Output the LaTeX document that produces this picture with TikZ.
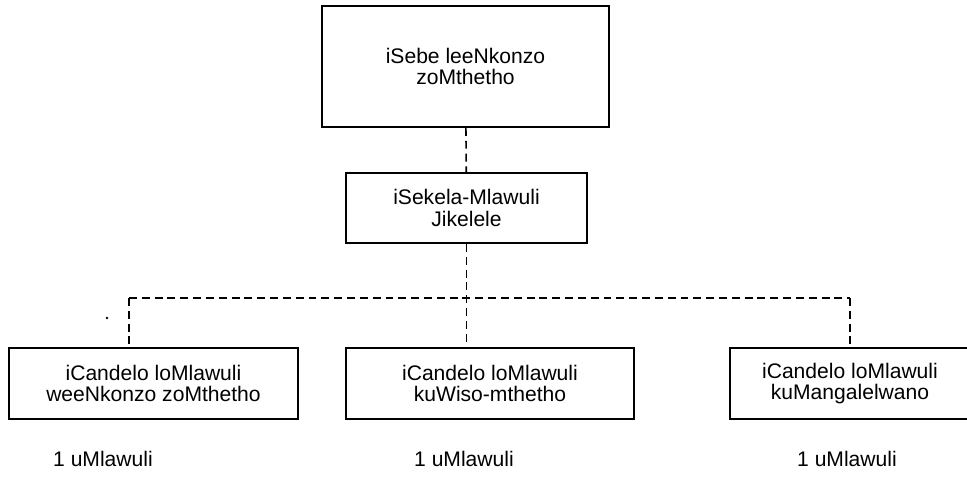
\documentclass[tikz,border=0pt]{standalone}
\usepackage{fontspec}
\setmainfont{Liberation Sans}
\begin{document}
\begin{tikzpicture}
[x=0.02cm,y=-0.02cm,
  boxdecorate/.style={shape=rectangle,draw,line width=1.1pt,inner sep=0pt,align=center,font=\fontsize{12}{12.4}\selectfont},%
  linedecorate/.style={-,line width=0.9pt,dash pattern=on 4.5pt off 2.8pt},%
  textdecorate/.style={inner sep=0pt,font=\fontsize{12}{12.4}\selectfont}]
\useasboundingbox (0,0) rectangle (967,478);
% boxes
\node (sebe) at (465.5,66.5) [boxdecorate,minimum width=5.74cm,minimum height=2.42cm] {iSebe leeNkonzo\\zoMthetho};
\node (sekela) at (466.5,208) [boxdecorate,minimum width=4.82cm,minimum height=1.4cm] {iSekela-Mlawuli\\Jikelele};
\node (cl) at (153.5,383.5) [boxdecorate,minimum width=5.78cm,minimum height=1.42cm] {iCandelo loMlawuli\\weeNkonzo zoMthetho};
\node (cm) at (490,383.5) [boxdecorate,minimum width=5.76cm,minimum height=1.42cm] {iCandelo loMlawuli\\kuWiso-mthetho};
\node (cr) at (850,383.5) [boxdecorate,minimum width=4.8cm,minimum height=1.42cm] {iCandelo loMlawuli\\kuMangalelwano};
% labels under the boxes
\node (nl) at (103,459) [textdecorate] {1 uMlawuli};
\node (nm) at (464,459) [textdecorate] {1 uMlawuli};
\node (nr) at (847,459) [textdecorate] {1 uMlawuli};
\node (dot) at (107,318) [shape=circle,fill,inner sep=0.55pt] {};
% joints of the dashed bar
\coordinate (jl) at (129,298);
\coordinate (jr) at (850,298);
% edges or lines
\path
(sebe) edge[linedecorate] (sekela)
(sekela.south) edge[linedecorate] (sekela.south |- cm.north)
(jl) edge[linedecorate] (jr)
(jl) edge[linedecorate] (jl |- cl.north)
(jr) edge[linedecorate] (jr |- cr.north);
\end{tikzpicture}
\end{document}
